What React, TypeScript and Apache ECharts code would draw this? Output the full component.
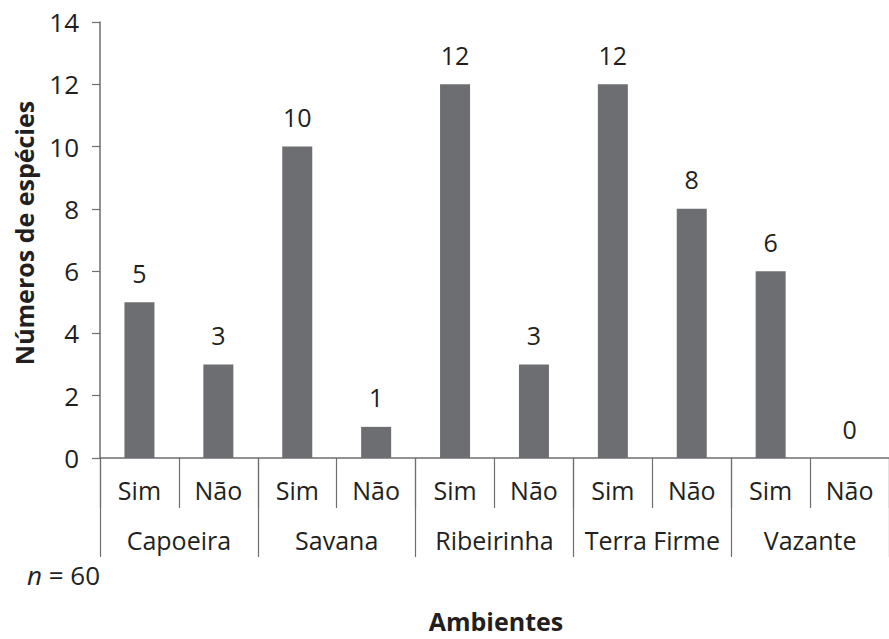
import React, { useEffect, useRef } from "react";
import * as echarts from "echarts";

const subCategories = ["Sim", "Não", "Sim", "Não", "Sim", "Não", "Sim", "Não", "Sim", "Não"];
const groups = ["Capoeira", "Savana", "Ribeirinha", "Terra Firme", "Vazante"];
const values = [5, 3, 10, 1, 12, 3, 12, 8, 6, 0];
const yTicks = { min: 0, max: 14, interval: 2 };

const FONT = "Open Sans";
const TEXT = "#231f20";
const AXIS = "#6d6e71";
const BAR = "#6d6e71";

export default function App() {
  const ref = useRef<HTMLDivElement>(null);
  useEffect(() => {
    document.body.style.margin = "0";
    const chart = echarts.init(ref.current!, null, { renderer: "svg" });
    chart.setOption({
      animation: false,
      backgroundColor: "#ffffff",
      textStyle: { fontFamily: FONT },
      grid: { left: 100, top: 22, width: 795, height: 436 },
      xAxis: [
        {
          type: "category",
          data: subCategories,
          position: "bottom",
          axisLine: { show: true, lineStyle: { color: AXIS, width: 1.5 } },
          axisTick: { show: true, interval: 0, length: 50, lineStyle: { color: AXIS, width: 1.2 } },
          axisLabel: { interval: 0, margin: 19, fontSize: 25, color: TEXT, fontFamily: FONT },
        },
        {
          type: "category",
          data: groups,
          position: "bottom",
          axisLine: { show: false },
          axisTick: { show: true, interval: 0, length: 99, lineStyle: { color: AXIS, width: 1.2 } },
          axisLabel: { interval: 0, margin: 69, fontSize: 25, color: TEXT, fontFamily: FONT },
        },
      ],
      yAxis: {
        type: "value",
        min: yTicks.min,
        max: yTicks.max,
        interval: yTicks.interval,
        splitLine: { show: false },
        axisLine: { show: true, lineStyle: { color: AXIS, width: 1.5 } },
        axisTick: { show: true, length: 8, lineStyle: { color: AXIS, width: 1.2 } },
        axisLabel: { margin: 21, fontSize: 26, color: TEXT, fontFamily: FONT },
      },
      series: [
        {
          type: "bar",
          data: values,
          xAxisIndex: 0,
          barWidth: 30,
          itemStyle: { color: BAR },
          label: {
            show: true,
            position: "top",
            distance: 17,
            fontSize: 25,
            color: TEXT,
            fontFamily: FONT,
          },
        },
      ],
      graphic: [
        {
          type: "text",
          x: 24,
          y: 233,
          rotation: Math.PI / 2,
          style: {
            text: "Números de espécies",
            font: `bold 25px "${FONT}"`,
            fill: TEXT,
            align: "center",
            verticalAlign: "middle",
          },
        },
        {
          type: "text",
          x: 496,
          y: 621,
          style: {
            text: "Ambientes",
            font: `bold 25px "${FONT}"`,
            fill: TEXT,
            align: "center",
            verticalAlign: "middle",
          },
        },
        {
          type: "text",
          x: 100,
          y: 575,
          style: {
            text: "{i|n} = 60",
            rich: {
              i: { fontStyle: "italic", fontSize: 26, fontFamily: FONT, fill: TEXT },
            },
            fontSize: 26,
            fontFamily: FONT,
            fill: TEXT,
            align: "right",
            verticalAlign: "middle",
          },
        },
      ],
    });
    return () => chart.dispose();
  }, []);
  return <div ref={ref} style={{ width: 889, height: 639 }} />;
}
